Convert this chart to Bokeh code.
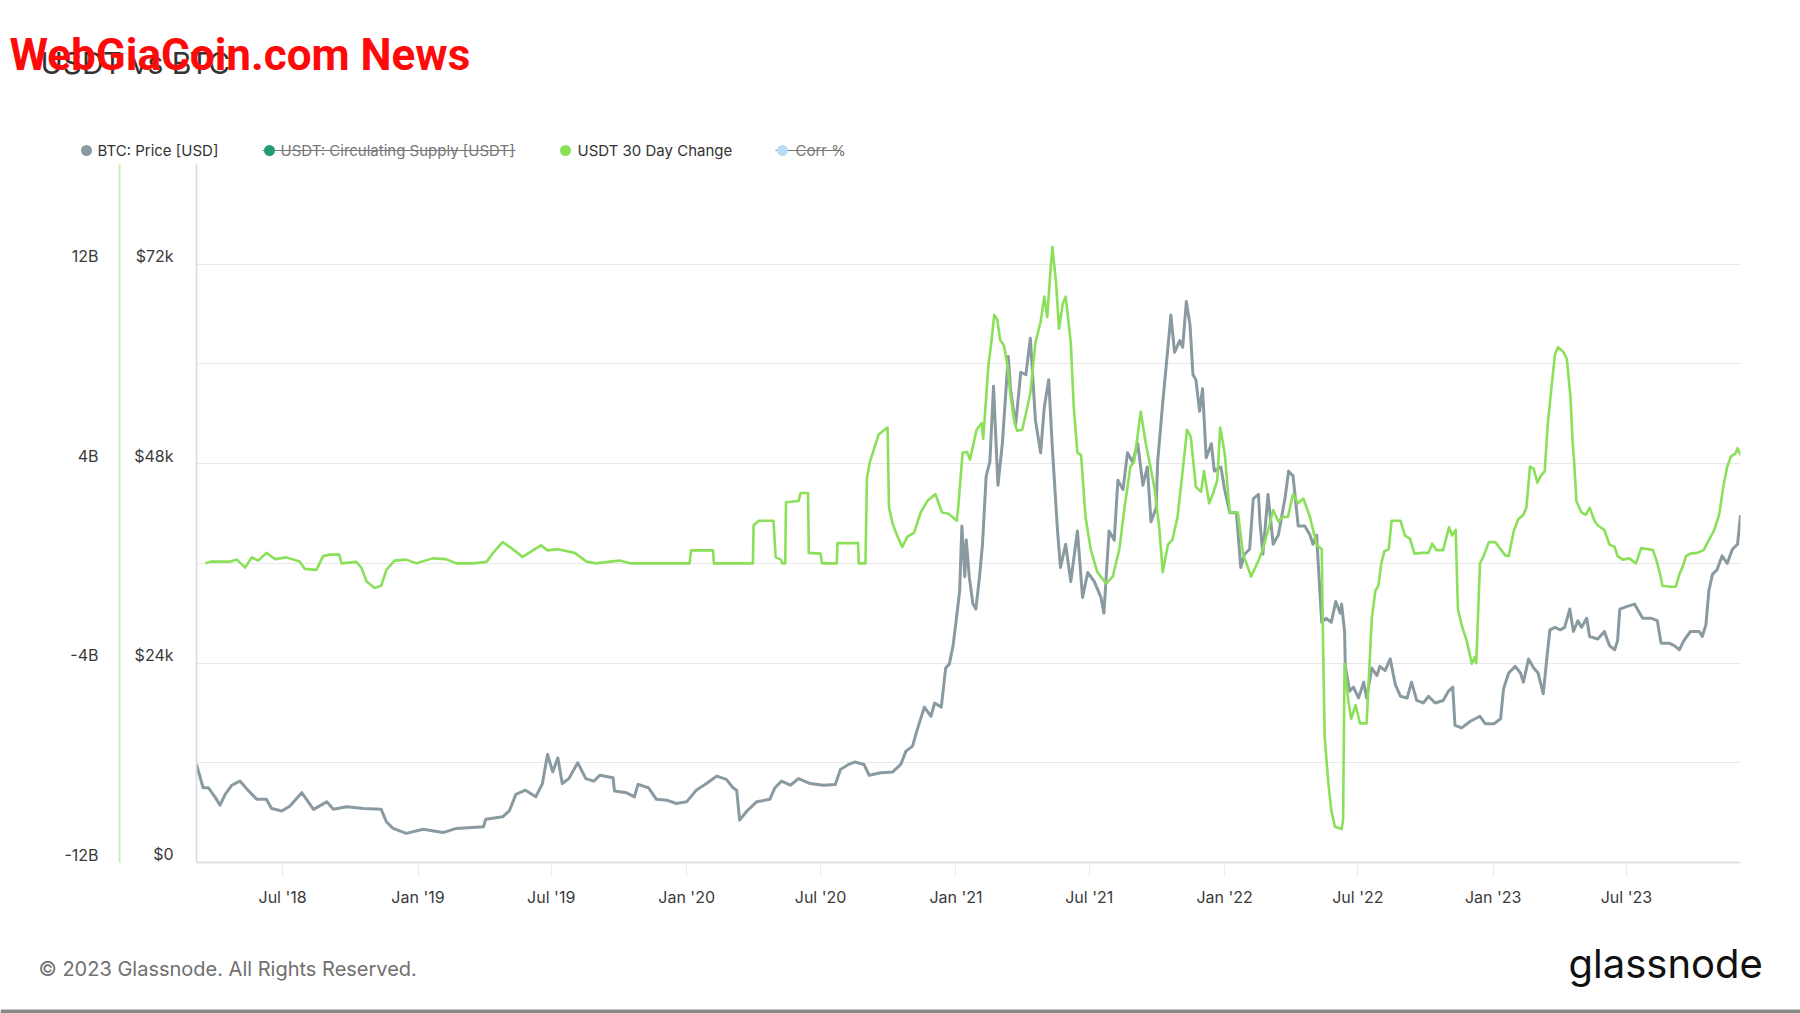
import pandas as pd
from bokeh.plotting import figure
from bokeh.layouts import column
from bokeh.models import (ColumnDataSource, Range1d, LinearAxis, FixedTicker,
                          DatetimeTickFormatter)
from bokeh.core.properties import value
from bokeh.embed import file_html
from bokeh.resources import INLINE

# ---------------- data ----------------
btc_dates = [
    "2018-03-06", "2018-03-15", "2018-03-22", "2018-03-31", "2018-04-07", "2018-04-14", "2018-04-23",
    "2018-05-04", "2018-05-15", "2018-05-27", "2018-06-09", "2018-06-16", "2018-06-30", "2018-07-11",
    "2018-07-27", "2018-08-12", "2018-08-30", "2018-09-08", "2018-09-26", "2018-10-19", "2018-11-12",
    "2018-11-19", "2018-11-28", "2018-12-16", "2019-01-08", "2019-02-04", "2019-02-22", "2019-03-31",
    "2019-04-03", "2019-04-26", "2019-05-05", "2019-05-14", "2019-05-27", "2019-06-10", "2019-06-19",
    "2019-06-26", "2019-07-03", "2019-07-10", "2019-07-16", "2019-07-25", "2019-08-06", "2019-08-17",
    "2019-08-28", "2019-09-05", "2019-09-23", "2019-09-25", "2019-10-11", "2019-10-22", "2019-10-27",
    "2019-11-10", "2019-11-21", "2019-12-05", "2019-12-18", "2020-01-01", "2020-01-14", "2020-01-28",
    "2020-02-11", "2020-02-24", "2020-03-04", "2020-03-09", "2020-03-13", "2020-03-23", "2020-04-05",
    "2020-04-23", "2020-04-30", "2020-05-09", "2020-05-21", "2020-06-01", "2020-06-17", "2020-07-05",
    "2020-07-21", "2020-07-28", "2020-08-08", "2020-08-17", "2020-08-29", "2020-09-05", "2020-09-21",
    "2020-10-07", "2020-10-18", "2020-10-25", "2020-11-03", "2020-11-08", "2020-11-19", "2020-11-28",
    "2020-12-03", "2020-12-12", "2020-12-18", "2020-12-23", "2020-12-28", "2021-01-01", "2021-01-06",
    "2021-01-09", "2021-01-13", "2021-01-15", "2021-01-19", "2021-01-24", "2021-01-28", "2021-02-02",
    "2021-02-06", "2021-02-11", "2021-02-16", "2021-02-21", "2021-02-27", "2021-03-05", "2021-03-13",
    "2021-03-16", "2021-03-23", "2021-03-30", "2021-04-06", "2021-04-12", "2021-04-19", "2021-04-26",
    "2021-05-01", "2021-05-07", "2021-05-12", "2021-05-19", "2021-05-23", "2021-05-30", "2021-06-06",
    "2021-06-15", "2021-06-22", "2021-06-29", "2021-07-08", "2021-07-17", "2021-07-21", "2021-07-28",
    "2021-08-04", "2021-08-09", "2021-08-16", "2021-08-22", "2021-08-29", "2021-09-05", "2021-09-12",
    "2021-09-18", "2021-09-23", "2021-09-30", "2021-10-02", "2021-10-09", "2021-10-16", "2021-10-20",
    "2021-10-25", "2021-11-01", "2021-11-05", "2021-11-10", "2021-11-15", "2021-11-19", "2021-11-23",
    "2021-11-28", "2021-12-02", "2021-12-07", "2021-12-14", "2021-12-18", "2021-12-27", "2022-01-01",
    "2022-01-08", "2022-01-17", "2022-01-23", "2022-01-28", "2022-02-04", "2022-02-09", "2022-02-16",
    "2022-02-18", "2022-02-22", "2022-03-01", "2022-03-08", "2022-03-15", "2022-03-24", "2022-03-29",
    "2022-04-04", "2022-04-11", "2022-04-20", "2022-04-27", "2022-05-01", "2022-05-06", "2022-05-10",
    "2022-05-13", "2022-05-19", "2022-05-26", "2022-06-01", "2022-06-07", "2022-06-09", "2022-06-13",
    "2022-06-14", "2022-06-20", "2022-06-25", "2022-07-02", "2022-07-09", "2022-07-13", "2022-07-20",
    "2022-07-27", "2022-07-31", "2022-08-07", "2022-08-14", "2022-08-21", "2022-08-28", "2022-09-06",
    "2022-09-12", "2022-09-19", "2022-09-28", "2022-10-05", "2022-10-14", "2022-10-25", "2022-11-01",
    "2022-11-07", "2022-11-10", "2022-11-19", "2022-12-01", "2022-12-14", "2022-12-21", "2023-01-02",
    "2023-01-11", "2023-01-15", "2023-01-22", "2023-01-31", "2023-02-07", "2023-02-11", "2023-02-18",
    "2023-02-25", "2023-03-03", "2023-03-10", "2023-03-15", "2023-03-19", "2023-03-26", "2023-04-02",
    "2023-04-08", "2023-04-15", "2023-04-20", "2023-04-26", "2023-05-01", "2023-05-08", "2023-05-12",
    "2023-05-23", "2023-06-01", "2023-06-08", "2023-06-15", "2023-06-19", "2023-06-22", "2023-07-01",
    "2023-07-12", "2023-07-23", "2023-08-03", "2023-08-12", "2023-08-17", "2023-08-28", "2023-09-04",
    "2023-09-11", "2023-09-17", "2023-09-26", "2023-10-08", "2023-10-12", "2023-10-17", "2023-10-21",
    "2023-10-26", "2023-11-01", "2023-11-08", "2023-11-15", "2023-11-22", "2023-11-29", "2023-12-03",
]
btc_price_k = [
    11.8, 9.0, 9.0, 7.9, 6.9, 8.2, 9.3,
    9.8, 8.7, 7.6, 7.6, 6.5, 6.2, 6.8,
    8.4, 6.4, 7.3, 6.4, 6.7, 6.5, 6.4,
    4.9, 4.1, 3.5, 4.0, 3.6, 4.1, 4.3,
    5.2, 5.5, 6.2, 8.2, 8.7, 7.9, 9.5,
    13.0, 10.9, 12.6, 9.5, 10.1, 12.0, 10.1,
    9.8, 10.5, 10.2, 8.6, 8.4, 7.9, 9.4,
    9.0, 7.6, 7.5, 7.1, 7.3, 8.7, 9.5,
    10.4, 10.0, 9.0, 8.7, 5.1, 6.2, 7.3,
    7.6, 9.0, 9.8, 9.3, 10.1, 9.5, 9.3,
    9.4, 11.2, 11.8, 12.1, 11.8, 10.5, 10.8,
    10.9, 11.8, 13.4, 14.0, 15.6, 18.7, 17.6,
    19.2, 18.7, 23.4, 23.9, 26.1, 28.9, 32.7,
    40.5, 34.4, 38.8, 34.4, 31.1, 30.5, 34.4,
    38.3, 46.5, 48.2, 57.3, 45.4, 50.4, 60.9,
    57.0, 52.6, 59.0, 58.7, 63.1, 53.2, 49.3,
    54.8, 58.1, 49.8, 39.9, 35.5, 38.3, 33.8,
    39.9, 31.9, 34.9, 33.8, 31.9, 30.0, 39.9,
    38.8, 46.0, 44.9, 49.3, 48.2, 50.4, 45.4,
    47.6, 41.0, 42.7, 48.2, 55.4, 62.0, 65.9,
    61.4, 62.8, 62.0, 67.5, 64.7, 58.7, 58.1,
    54.3, 57.0, 48.7, 50.4, 47.1, 47.6, 44.9,
    42.1, 42.1, 35.5, 37.1, 37.7, 43.8, 44.3,
    41.0, 37.1, 44.3, 38.3, 39.4, 43.8, 47.1,
    46.5, 40.5, 40.5, 39.4, 38.3, 39.4, 33.3,
    28.9, 29.4, 28.9, 31.4, 30.0, 31.1, 27.8,
    23.6, 20.6, 21.1, 19.8, 21.7, 19.8, 23.4,
    22.5, 23.6, 23.1, 24.5, 21.4, 20.0, 19.8,
    21.7, 19.5, 19.2, 20.0, 19.2, 19.5, 20.6,
    21.1, 16.5, 16.2, 17.0, 17.6, 16.7, 16.7,
    17.3, 20.9, 22.8, 23.6, 22.8, 21.7, 24.5,
    23.4, 22.8, 20.3, 24.7, 28.0, 28.3, 28.0,
    28.3, 30.5, 27.8, 29.1, 28.3, 29.4, 27.2,
    26.9, 27.8, 26.1, 25.6, 26.7, 30.5, 30.8,
    31.1, 29.4, 29.4, 29.1, 26.4, 26.4, 26.1,
    25.6, 26.7, 27.8, 27.8, 27.2, 28.6, 32.7,
    34.7, 35.2, 36.9, 36.0, 37.7, 38.3, 41.8,
]

usdt_dates = [
    "2018-03-18", "2018-03-25", "2018-04-21", "2018-04-30", "2018-05-11", "2018-05-20", "2018-05-29",
    "2018-06-09", "2018-06-21", "2018-07-06", "2018-07-24", "2018-07-31", "2018-08-16", "2018-08-25",
    "2018-09-03", "2018-09-16", "2018-09-19", "2018-10-09", "2018-10-16", "2018-10-23", "2018-11-03",
    "2018-11-12", "2018-11-19", "2018-11-30", "2018-12-16", "2018-12-30", "2019-01-21", "2019-02-08",
    "2019-02-22", "2019-03-17", "2019-04-04", "2019-04-13", "2019-04-26", "2019-05-08", "2019-05-23",
    "2019-06-17", "2019-06-26", "2019-07-10", "2019-08-02", "2019-08-18", "2019-08-31", "2019-09-19",
    "2019-10-02", "2019-10-16", "2020-01-05", "2020-01-07", "2020-02-06", "2020-02-07", "2020-03-31",
    "2020-04-01", "2020-04-08", "2020-04-28", "2020-05-01", "2020-05-08", "2020-05-10", "2020-05-14",
    "2020-05-15", "2020-06-01", "2020-06-04", "2020-06-14", "2020-06-15", "2020-07-01", "2020-07-03",
    "2020-07-23", "2020-07-24", "2020-08-21", "2020-08-22", "2020-08-31", "2020-09-02", "2020-09-06",
    "2020-09-12", "2020-09-18", "2020-09-30", "2020-10-02", "2020-10-07", "2020-10-13", "2020-10-20",
    "2020-10-27", "2020-11-05", "2020-11-14", "2020-11-23", "2020-12-04", "2020-12-13", "2020-12-22",
    "2021-01-02", "2021-01-04", "2021-01-10", "2021-01-16", "2021-01-20", "2021-01-29", "2021-02-05",
    "2021-02-07", "2021-02-14", "2021-02-18", "2021-02-22", "2021-02-26", "2021-03-02", "2021-03-07",
    "2021-03-12", "2021-03-16", "2021-03-21", "2021-03-25", "2021-04-01", "2021-04-06", "2021-04-12",
    "2021-04-19", "2021-04-26", "2021-05-01", "2021-05-05", "2021-05-09", "2021-05-12", "2021-05-17",
    "2021-05-21", "2021-05-26", "2021-05-30", "2021-06-06", "2021-06-10", "2021-06-15", "2021-06-20",
    "2021-06-26", "2021-07-03", "2021-07-12", "2021-07-24", "2021-08-02", "2021-08-11", "2021-08-18",
    "2021-08-26", "2021-08-31", "2021-09-05", "2021-09-09", "2021-09-16", "2021-09-21", "2021-09-28",
    "2021-10-04", "2021-10-09", "2021-10-16", "2021-10-22", "2021-10-29", "2021-11-05", "2021-11-11",
    "2021-11-16", "2021-11-23", "2021-11-30", "2021-12-04", "2021-12-11", "2021-12-16", "2021-12-22",
    "2021-12-26", "2022-01-01", "2022-01-08", "2022-01-19", "2022-01-26", "2022-02-06", "2022-02-16",
    "2022-02-22", "2022-03-01", "2022-03-08", "2022-03-15", "2022-03-21", "2022-03-28", "2022-04-04",
    "2022-04-11", "2022-04-18", "2022-04-27", "2022-05-06", "2022-05-13", "2022-05-15", "2022-05-17",
    "2022-05-22", "2022-05-26", "2022-05-31", "2022-06-09", "2022-06-11", "2022-06-13", "2022-06-18",
    "2022-06-22", "2022-06-28", "2022-07-04", "2022-07-13", "2022-07-17", "2022-07-20", "2022-07-25",
    "2022-07-29", "2022-08-02", "2022-08-06", "2022-08-12", "2022-08-16", "2022-08-28", "2022-09-03",
    "2022-09-10", "2022-09-16", "2022-09-26", "2022-10-05", "2022-10-10", "2022-10-16", "2022-10-25",
    "2022-10-30", "2022-11-02", "2022-11-06", "2022-11-11", "2022-11-14", "2022-11-19", "2022-11-26",
    "2022-12-03", "2022-12-07", "2022-12-09", "2022-12-14", "2022-12-19", "2022-12-26", "2023-01-04",
    "2023-01-11", "2023-01-17", "2023-01-22", "2023-01-29", "2023-02-04", "2023-02-11", "2023-02-15",
    "2023-02-20", "2023-02-25", "2023-03-02", "2023-03-07", "2023-03-12", "2023-03-16", "2023-03-21",
    "2023-03-26", "2023-03-30", "2023-04-06", "2023-04-11", "2023-04-16", "2023-04-19", "2023-04-21",
    "2023-04-24", "2023-05-01", "2023-05-07", "2023-05-12", "2023-05-19", "2023-05-23", "2023-06-01",
    "2023-06-08", "2023-06-15", "2023-06-19", "2023-06-26", "2023-07-05", "2023-07-14", "2023-07-21",
    "2023-07-30", "2023-08-06", "2023-08-10", "2023-08-15", "2023-08-19", "2023-08-30", "2023-09-06",
    "2023-09-11", "2023-09-15", "2023-09-20", "2023-09-26", "2023-10-05", "2023-10-14", "2023-10-21",
    "2023-10-28", "2023-11-04", "2023-11-10", "2023-11-15", "2023-11-20", "2023-11-26", "2023-11-29",
    "2023-12-03",
]
usdt_change_b = [
    0.0, 0.07, 0.07, 0.15, -0.17, 0.24, 0.11,
    0.42, 0.17, 0.24, 0.07, -0.22, -0.26, 0.29,
    0.35, 0.35, 0.0, 0.06, -0.17, -0.72, -0.99,
    -0.9, -0.26, 0.11, 0.15, 0.0, 0.2, 0.17,
    0.0, 0.0, 0.06, 0.42, 0.85, 0.61, 0.26,
    0.72, 0.52, 0.57, 0.42, 0.07, 0.0, 0.07,
    0.11, 0.0, 0.0, 0.52, 0.52, 0.0, 0.0,
    1.53, 1.71, 1.71, 0.24, 0.15, 0.0, 0.0,
    2.45, 2.5, 2.82, 2.82, 0.42, 0.39, 0.0,
    0.0, 0.81, 0.81, 0.0, 0.0, 3.42, 4.07,
    4.62, 5.17, 5.45, 2.23, 1.58, 1.12, 0.66,
    1.07, 1.22, 2.04, 2.5, 2.78, 2.04, 1.99,
    1.71, 2.23, 4.44, 4.47, 4.16, 5.36, 5.63,
    4.99, 7.93, 8.86, 9.96, 9.78, 8.95, 8.76,
    7.93, 6.74, 5.73, 5.32, 5.36, 6.0, 6.83,
    8.86, 9.68, 10.7, 9.87, 11.6, 12.7, 11.25,
    9.41, 10.4, 10.7, 8.86, 6.28, 4.44, 4.34,
    1.86, 0.57, -0.35, -0.81, -0.53, 0.57, 2.23,
    3.88, 4.07, 5.17, 6.09, 4.8, 4.07, 2.96,
    1.49, -0.35, 0.75, 0.94, 1.86, 3.7, 5.36,
    5.08, 3.06, 2.87, 3.7, 2.41, 2.78, 3.33,
    5.45, 4.44, 2.04, 2.04, 0.39, -0.53, 0.11,
    0.57, 1.31, 2.14, 1.68, 1.86, 1.86, 2.78,
    2.41, 2.6, 1.86, 0.75, 0.57, -3.66, -6.98,
    -8.82, -9.92, -10.57, -10.66, -10.3, -4.03, -5.5,
    -6.24, -5.69, -6.42, -6.42, -4.0, -2.19, -1.09,
    -0.9, 0.0, 0.48, 0.57, 1.71, 1.71, 1.12,
    0.98, 0.39, 0.42, 0.42, 0.79, 0.53, 0.53,
    1.12, 1.45, 1.12, 1.34, -1.82, -2.47, -3.11,
    -4.03, -3.76, -4.0, 0.0, 0.29, 0.85, 0.85,
    0.57, 0.33, 0.29, 1.31, 1.77, 1.95, 2.23,
    3.88, 3.79, 3.24, 3.52, 3.7, 5.54, 7.01,
    8.4, 8.67, 8.49, 8.21, 6.64, 4.8, 4.07,
    2.5, 2.04, 1.95, 2.23, 1.68, 1.53, 1.34,
    0.75, 0.66, 0.29, 0.15, 0.2, 0.0, 0.61,
    0.57, 0.53, 0.2, -0.35, -0.9, -0.94, -0.94,
    -0.44, -0.17, 0.29, 0.39, 0.42, 0.53, 0.94,
    1.31, 1.95, 3.15, 3.88, 4.29, 4.4, 4.62,
    4.34,
]

price_ticks = [0, 24000, 48000, 72000]
price_tick_labels = ["$0", "$24k", "$48k", "$72k"]
usdt_ticks = [-12_000_000_000, -4_000_000_000, 4_000_000_000, 12_000_000_000]
usdt_tick_labels = ["-12B", "-4B", "4B", "12B"]
x_tick_dates = ["2018-07-01", "2019-01-01", "2019-07-01", "2020-01-01", "2020-07-01",
                "2021-01-01", "2021-07-01", "2022-01-01", "2022-07-01", "2023-01-01", "2023-07-01"]
legend_names = ["BTC: Price [USD]", "USDT: Circulating Supply [USDT]", "USDT 30 Day Change", "Corr %"]
legend_colors = ["#8a9aa1", "#239b74", "#8be05a", "#b9dcf4"]
legend_hidden = [False, True, False, True]
title_text = "USDT vs BTC"
watermark_text = "WebGiaCoin.com News"
footer_text = "\u00a9 2023 Glassnode. All Rights Reserved."
brand_text = "glassnode"

# ---------------- layout constants (page px) ----------------
W = 1800
HEAD_H = 162              # header canvas: page y 0..162
MAIN_H = 760              # main canvas:   page y 162..922
FOOT_H = 1013 - HEAD_H - MAIN_H
FL, FT, FR, FB = 196, 164, 1740, 862   # plot frame in page px
FONT = "Inter"
Y_MIN, Y_MAX = 0, 84000
U_MIN, U_MAX = -12e9, 16e9
LABEL_LIFT_PX = 8         # y tick labels sit slightly above their gridlines


def blank_fig(height, y_top):
    f = figure(width=W, height=height, output_backend="svg", toolbar_location=None,
               x_range=Range1d(0, W), y_range=Range1d(y_top + height, y_top),
               x_axis_location=None, y_axis_location=None,
               min_border=0, min_border_left=0, min_border_right=0,
               min_border_top=0, min_border_bottom=0, frame_align=False)
    f.outline_line_color = None
    f.grid.visible = False
    f.background_fill_color = "white"
    f.border_fill_color = "white"
    return f


# ---------------- header: title, watermark, legend ----------------
head = blank_fig(HEAD_H, 0)
head.text(x=[40], y=[62], text=[title_text], text_font=value(FONT), text_font_size="30px",
          text_color="#333333", text_baseline="middle")
head.text(x=[9], y=[54], text=[watermark_text], text_font=value("Roboto"),
          text_font_size="44px", text_font_style="bold", text_color="#fe0a0a",
          text_baseline="middle")

leg_x = [86, 269, 565, 782]
leg_text_x = [97, 280, 577, 795]
leg_end = [218, 515, 732, 841]
LEG_Y = 150
for name, col, hid, dx, tx, ex in zip(legend_names, legend_colors, legend_hidden,
                                      leg_x, leg_text_x, leg_end):
    if hid:
        head.segment(x0=[dx - 7], y0=[LEG_Y], x1=[ex], y1=[LEG_Y], line_color="#777777",
                     line_width=1.2)
    head.scatter(x=[dx], y=[LEG_Y], marker="circle", size=11, fill_color=col, line_color=None)
    head.text(x=[tx], y=[LEG_Y], text=[name], text_font=value(FONT), text_font_size="15px",
              text_color="#777777" if hid else "#333333", text_baseline="middle")

# ---------------- main chart ----------------
btc_src = ColumnDataSource(dict(date=pd.to_datetime(btc_dates),
                                price=[v * 1000 for v in btc_price_k]))
usdt_src = ColumnDataSource(dict(date=pd.to_datetime(usdt_dates),
                                 change=[v * 1e9 for v in usdt_change_b]))

p = figure(width=W, height=MAIN_H, output_backend="svg", toolbar_location=None,
           x_axis_type="datetime",
           x_range=Range1d(pd.Timestamp(btc_dates[0]), pd.Timestamp(btc_dates[-1])),
           y_range=Range1d(Y_MIN, Y_MAX),
           min_border_left=FL, min_border_right=W - FR,
           min_border_top=FT - HEAD_H, min_border_bottom=HEAD_H + MAIN_H - FB,
           frame_align=False)
p.outline_line_color = None
p.background_fill_color = "white"
p.border_fill_color = "white"
p.extra_y_ranges = {"usdt": Range1d(U_MIN, U_MAX)}

p.xgrid.visible = False
p.ygrid.ticker = FixedTicker(ticks=[12000 * i for i in range(1, 8)])
p.ygrid.grid_line_color = "#e8e8e8"
p.ygrid.grid_line_width = 1.2

frame_h = FB - FT
lift_price = round(LABEL_LIFT_PX * (Y_MAX - Y_MIN) / frame_h)
lift_usdt = round(LABEL_LIFT_PX * (U_MAX - U_MIN) / frame_h)

ya = p.yaxis[0]
ya.ticker = FixedTicker(ticks=[t + lift_price for t in price_ticks])
ya.major_label_overrides = {t + lift_price: l for t, l in zip(price_ticks, price_tick_labels)}
ya.major_tick_line_color = None
ya.minor_tick_line_color = None
ya.major_tick_out = 0
ya.major_tick_in = 0
ya.major_label_standoff = 23
ya.major_label_text_font = FONT
ya.major_label_text_font_size = "16px"
ya.major_label_text_color = "#3a3a3a"
ya.axis_line_color = "#d4d9dc"
ya.axis_line_width = 1.5
ya.axis_label = " "
ya.axis_label_text_font_size = "8px"
ya.axis_label_standoff = 0

ya2 = LinearAxis(y_range_name="usdt",
                 ticker=FixedTicker(ticks=[t + lift_usdt for t in usdt_ticks]))
ya2.major_label_overrides = {t + lift_usdt: l for t, l in zip(usdt_ticks, usdt_tick_labels)}
ya2.major_tick_line_color = None
ya2.minor_tick_line_color = None
ya2.major_tick_out = 0
ya2.major_tick_in = 0
ya2.major_label_standoff = 21
ya2.major_label_text_font = FONT
ya2.major_label_text_font_size = "16px"
ya2.major_label_text_color = "#3a3a3a"
ya2.axis_line_color = "#c9f1b4"
ya2.axis_line_width = 2
p.add_layout(ya2, "left")

xa = p.xaxis[0]
xa.ticker = FixedTicker(ticks=[int(pd.Timestamp(d).value // 10**6) for d in x_tick_dates])
fmt = "%b '%y"
xa.formatter = DatetimeTickFormatter(days=fmt, months=fmt, years=fmt, hours=fmt,
                                     hourmin=fmt, minutes=fmt, minsec=fmt, seconds=fmt,
                                     milliseconds=fmt, microseconds=fmt)
xa.major_tick_in = 0
xa.major_tick_out = 14
xa.major_tick_line_color = "#ebebeb"
xa.minor_tick_line_color = None
xa.major_label_standoff = 10
xa.major_label_text_font = FONT
xa.major_label_text_font_size = "16px"
xa.major_label_text_color = "#3a3a3a"
xa.axis_line_color = "#dfe2e4"
xa.axis_line_width = 2

p.line(x="date", y="price", source=btc_src, line_color=legend_colors[0], line_width=3,
       line_join="round")
p.line(x="date", y="change", source=usdt_src, y_range_name="usdt", line_color=legend_colors[2],
       line_width=2.6, line_join="round")

# ---------------- footer ----------------
foot = blank_fig(FOOT_H, HEAD_H + MAIN_H)
foot.text(x=[38], y=[968], text=[footer_text], text_font=value(FONT), text_font_size="20px",
          text_color="#707070", text_baseline="middle")
foot.text(x=[1568], y=[963], text=[brand_text], text_font=value(FONT), text_font_size="40px",
          text_color="#111111", text_baseline="middle")
foot.quad(left=[0], right=[W], top=[1009], bottom=[1013], fill_color="#8a8a8a", line_color=None)

layout = column(head, p, foot, spacing=0)
open("out.html", "w").write(file_html(layout, INLINE))
